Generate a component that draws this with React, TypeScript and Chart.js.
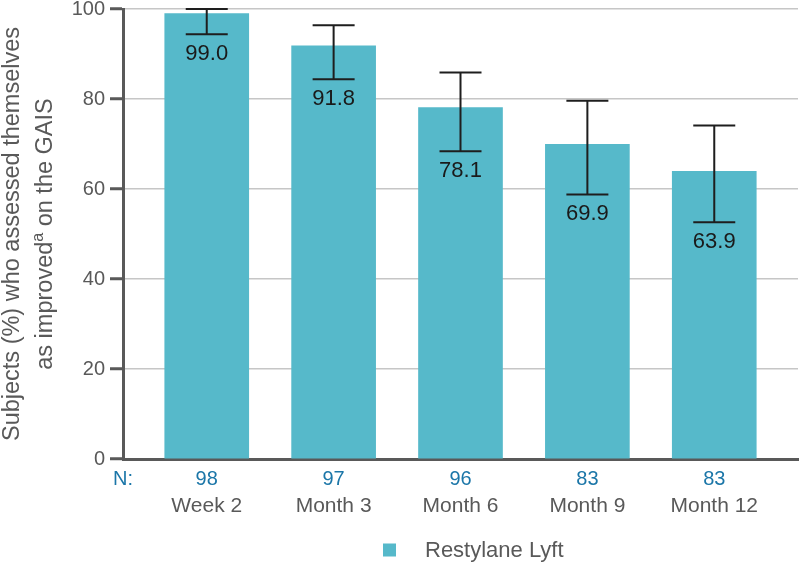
import React, { useEffect, useRef } from "react";
import { Chart, registerables } from "chart.js";

Chart.register(...registerables);

// ---------- data ----------
const categories = ["Week 2", "Month 3", "Month 6", "Month 9", "Month 12"];
const nValues = ["98", "97", "96", "83", "83"];
const percentImproved = [99.0, 91.8, 78.1, 69.9, 63.9];
const ciLower = [94.4, 84.4, 68.4, 58.8, 52.6];
const ciUpper = [100.0, 96.4, 85.9, 79.6, 74.1];
const yTicks = [0, 20, 40, 60, 80, 100];
const seriesLabel = "Restylane Lyft";
const nLabel = "N:";
const yTitleLine1 = "Subjects (%) who assessed themselves";
const yTitleLine2 = ["as improved", "a", " on the GAIS"];

// ---------- styles ----------
const FONT = "'Liberation Sans', Arial, Helvetica, sans-serif";
const GRAY = "#595959";
const BLUE = "#1b76a8";
const BAR = "#56b9ca";
const X_MIN = -0.66;
const X_MAX = 4.66;

const errorBarPlugin = {
  id: "errorBars",
  afterDatasetsDraw(chart: any) {
    const { ctx } = chart;
    const xs = chart.scales.x;
    const ys = chart.scales.y;
    ctx.save();
    ctx.strokeStyle = "#1e1e1e";
    ctx.lineWidth = 2;
    ctx.fillStyle = "#1a1a1a";
    ctx.font = `22px ${FONT}`;
    ctx.textAlign = "center";
    ctx.textBaseline = "alphabetic";
    percentImproved.forEach((v, i) => {
      const px = xs.getPixelForValue(i);
      const yHi = ys.getPixelForValue(ciUpper[i]);
      const yLo = ys.getPixelForValue(ciLower[i]);
      const half = 21;
      ctx.beginPath();
      ctx.moveTo(px, yHi);
      ctx.lineTo(px, yLo);
      ctx.moveTo(px - half, yHi);
      ctx.lineTo(px + half, yHi);
      ctx.moveTo(px - half, yLo);
      ctx.lineTo(px + half, yLo);
      ctx.stroke();
      ctx.fillText(v.toFixed(1), px, yLo + 25.5);
    });
    ctx.restore();
  },
};

const yTitlePlugin = {
  id: "yTitle",
  afterDraw(chart: any) {
    const { ctx, chartArea } = chart;
    const cy = (chartArea.top + chartArea.bottom) / 2;
    ctx.save();
    ctx.fillStyle = GRAY;
    ctx.textBaseline = "alphabetic";
    // line 1
    ctx.save();
    ctx.translate(19, cy);
    ctx.rotate(-Math.PI / 2);
    ctx.font = `23.5px ${FONT}`;
    ctx.textAlign = "center";
    ctx.fillText(yTitleLine1, 0, 0);
    ctx.restore();
    // line 2 with superscript
    ctx.save();
    ctx.translate(52, cy);
    ctx.rotate(-Math.PI / 2);
    ctx.textAlign = "left";
    const big = `23.5px ${FONT}`;
    const small = `16px ${FONT}`;
    ctx.font = big;
    const w1 = ctx.measureText(yTitleLine2[0]).width;
    const w3 = ctx.measureText(yTitleLine2[2]).width;
    ctx.font = small;
    const w2 = ctx.measureText(yTitleLine2[1]).width;
    let x = -(w1 + w2 + w3) / 2;
    ctx.font = big;
    ctx.fillText(yTitleLine2[0], x, 0);
    x += w1;
    ctx.font = small;
    ctx.fillText(yTitleLine2[1], x, -9);
    x += w2;
    ctx.font = big;
    ctx.fillText(yTitleLine2[2], x, 0);
    ctx.restore();
    ctx.restore();
  },
};

const legendPlugin = {
  id: "customLegend",
  afterDraw(chart: any) {
    const { ctx } = chart;
    const ds = chart.data.datasets[0];
    const cy = chart.height - 14;
    ctx.save();
    ctx.fillStyle = ds.backgroundColor;
    ctx.fillRect(383, cy - 6.5, 13, 13);
    ctx.fillStyle = GRAY;
    ctx.font = `22px ${FONT}`;
    ctx.textAlign = "left";
    ctx.textBaseline = "middle";
    ctx.fillText(ds.label, 425, cy + 1);
    ctx.restore();
  },
};

export default function App() {
  const canvasRef = useRef<HTMLCanvasElement | null>(null);

  useEffect(() => {
    if (!canvasRef.current) return;
    const chart = new Chart(canvasRef.current, {
      type: "bar",
      data: {
        datasets: [
          {
            label: seriesLabel,
            data: categories.map((_, i) => ({ x: i, y: percentImproved[i] })),
            backgroundColor: BAR,
            borderWidth: 0,
            barThickness: 84,
            xAxisID: "x",
            yAxisID: "y",
          },
        ],
      },
      options: {
        animation: false,
        responsive: false,
        layout: { padding: { top: 9, right: 2, bottom: 44, left: 0 } },
        plugins: {
          legend: { display: false },
          tooltip: { enabled: false },
          title: { display: false },
        },
        scales: {
          xN: {
            type: "linear",
            position: "bottom",
            weight: 0,
            offset: false,
            min: X_MIN,
            max: X_MAX,
            afterBuildTicks: (s: any) => {
              s.ticks = [{ value: X_MIN }, ...categories.map((_, i) => ({ value: i }))];
            },
            ticks: {
              color: BLUE,
              font: { family: FONT, size: 20 },
              padding: 8,
              autoSkip: false,
              maxRotation: 0,
              callback: (v: any) => (v < 0 ? nLabel : nValues[Math.round(v)]),
            },
            grid: { display: false, drawTicks: false, tickLength: 0, offset: false },
            border: { display: true, color: GRAY, width: 3 },
            afterFit: (s: any) => {
              s.height = 30;
              s.paddingLeft = 0;
              s.paddingRight = 0;
            },
          },
          x: {
            type: "linear",
            position: "bottom",
            weight: 1,
            offset: false,
            min: X_MIN,
            max: X_MAX,
            afterBuildTicks: (s: any) => {
              s.ticks = categories.map((_, i) => ({ value: i }));
            },
            ticks: {
              color: GRAY,
              font: { family: FONT, size: 21 },
              padding: 5,
              autoSkip: false,
              maxRotation: 0,
              callback: (v: any) => categories[Math.round(v)],
            },
            grid: { display: false, drawTicks: false, tickLength: 0, offset: false },
            border: { display: false },
            afterFit: (s: any) => {
              s.height = 31;
              s.paddingLeft = 0;
              s.paddingRight = 0;
            },
          },
          y: {
            type: "linear",
            min: 0,
            max: 100,
            afterBuildTicks: (s: any) => {
              s.ticks = yTicks.map((v) => ({ value: v }));
            },
            ticks: {
              color: GRAY,
              font: { family: FONT, size: 20 },
              padding: 5,
            },
            grid: {
              color: "#c6c6c6",
              lineWidth: 1.5,
              tickColor: GRAY,
              tickWidth: 3,
              tickLength: 13,
              drawTicks: true,
            },
            border: { display: true, color: GRAY, width: 3 },
            afterFit: (s: any) => {
              s.width = 123;
              s.paddingTop = 0;
              s.paddingBottom = 0;
            },
          },
        },
      } as any,
      plugins: [errorBarPlugin, yTitlePlugin, legendPlugin],
    });
    return () => chart.destroy();
  }, []);

  return (
    <div style={{ position: "fixed", left: 0, top: 0, width: 800, height: 564, background: "#fff" }}>
      <canvas ref={canvasRef} width={800} height={564} style={{ display: "block" }} />
    </div>
  );
}
